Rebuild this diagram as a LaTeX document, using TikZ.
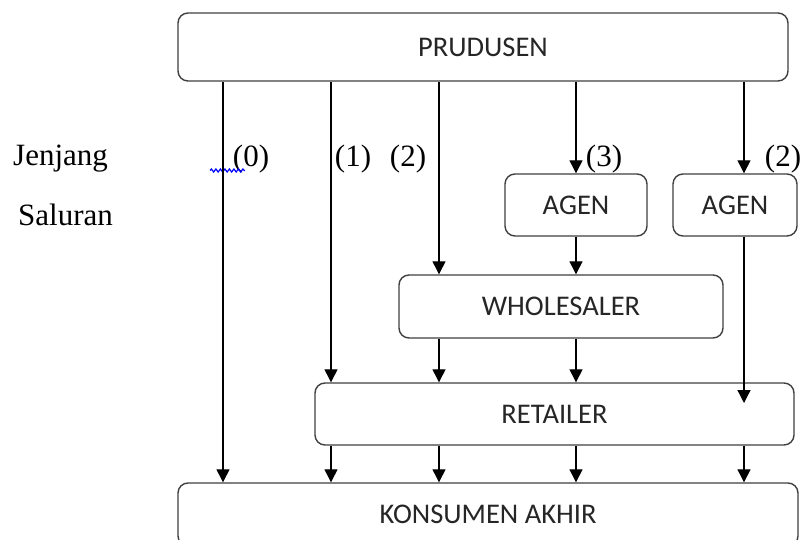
\documentclass[tikz,border=0pt]{standalone}
\usepackage{fontspec}
\setmainfont{Liberation Serif}
\newfontfamily\boxfont{Carlito}
\usetikzlibrary{arrows.meta,decorations.pathmorphing}

\tikzset{
  stage/.style={draw=black!75, line width=1.4pt, rounded corners=10pt,
    inner sep=0pt, font=\boxfont\fontsize{28.5}{32}\selectfont, text=black!85},
  flow/.style={draw=black, line width=1.3pt, -{Triangle[width=13pt,length=13pt]}},
  level/.style={font=\fontsize{31}{34}\selectfont, anchor=base, inner sep=0pt},
}

\begin{document}
\begin{tikzpicture}[x=1pt, y=-1pt]
  \useasboundingbox (0,0) rectangle (802,540);
  \clip (0,0) rectangle (802,540);
  \fill[white] (0,0) rectangle (802,540);

  % columns of the channels
  \coordinate (c0) at (223,0);
  \coordinate (c1) at (331,0);
  \coordinate (c2) at (439,0);
  \coordinate (c3) at (576,0);
  \coordinate (c4) at (744,0);
  \coordinate (stop) at (744,403);

  % stages
  \node[stage, minimum width=610pt, minimum height=68pt] (P) at (483,47) {PRUDUSEN};
  \node[stage, minimum width=142pt, minimum height=62pt] (A1) at (576,205) {AGEN};
  \node[stage, minimum width=124pt, minimum height=62pt] (A2) at (735,205) {AGEN};
  \node[stage, minimum width=324pt, minimum height=63pt] (W) at (561,306.5) {WHOLESALER};
  \node[stage, minimum width=479pt, minimum height=62pt] (R) at (554.5,414) {RETAILER};
  \node[stage, minimum width=620pt, minimum height=63pt] (K) at (488,514.5) {KONSUMEN AKHIR};

  % side labels
  \node[level, anchor=base west] (jen) at (13,165) {Jenjang};
  \node[level, anchor=base west] (sal) at (18,225) {Saluran};

  % channel levels
  \node[level] (l0) at (251,167) {(0)};
  \node[level] (l1) at (353,167) {(1)};
  \node[level] (l2) at (408,167) {(2)};
  \node[level] (l3) at (604,167) {(3)};
  \node[level] (l4) at (783,167) {(2)};

  % spell-check mark
  \draw[blue, line width=1.2pt, decorate,
        decoration={snake, amplitude=1.5pt, segment length=4.5pt}]
        (210,170.5) -- (245,170.5);

  % producer to the next stage
  \draw[flow] (P.south -| c0) -- (K.north -| c0);
  \draw[flow] (P.south -| c1) -- (R.north -| c1);
  \draw[flow] (P.south -| c2) -- (W.north -| c2);
  \draw[flow] (P.south -| c3) -- (A1.north -| c3);
  \draw[flow] (P.south -| c4) -- (A2.north -| c4);

  % agents
  \draw[flow] (A1.south -| c3) -- (W.north -| c3);
  \draw[flow] (A2.south -| c4) -- (stop);

  % wholesaler to retailer
  \draw[flow] (W.south -| c2) -- (R.north -| c2);
  \draw[flow] (W.south -| c3) -- (R.north -| c3);

  % retailer to consumer
  \draw[flow] (R.south -| c1) -- (K.north -| c1);
  \draw[flow] (R.south -| c2) -- (K.north -| c2);
  \draw[flow] (R.south -| c3) -- (K.north -| c3);
  \draw[flow] (R.south -| c4) -- (K.north -| c4);
\end{tikzpicture}
\end{document}
